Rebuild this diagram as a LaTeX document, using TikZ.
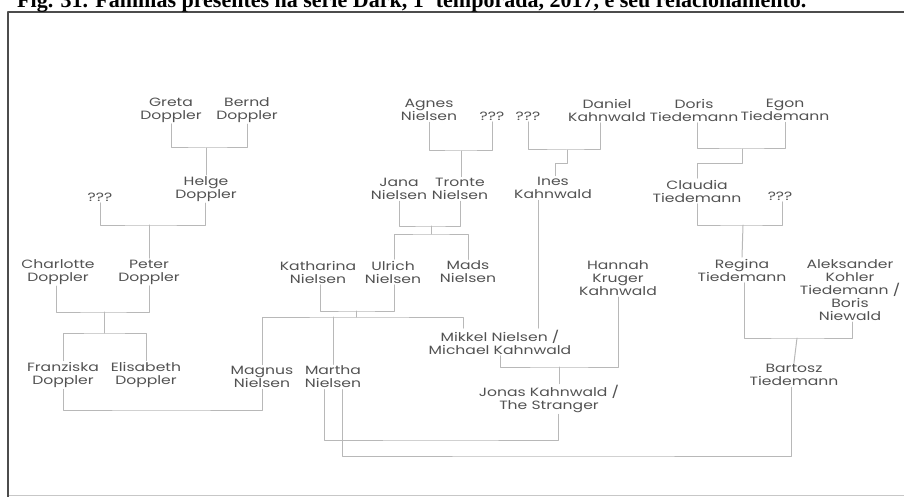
\documentclass[tikz,border=0pt]{standalone}
\usepackage{fontspec}
\setmainfont{Liberation Serif}
\newfontfamily\namefont[FakeStretch=1.3]{Poppins}
\usetikzlibrary{calc}

\tikzset{
  person/.style={align=center,inner sep=1.5pt,text=black!68,
    font=\namefont\fontsize{12}{13}\selectfont},
  link/.style={draw=black!28,line width=1pt},
}

\begin{document}
\begin{tikzpicture}[x=1pt,y=-1pt,line cap=round,line join=round]
  \useasboundingbox (0,0) rectangle (904,497);

  % Frame and caption
  \draw[black!22,line width=0.8pt] (9,495) -- (904,495);
  \draw[black!70,line width=2pt] (8,497) -- (8,12) -- (904,12);
  \node[anchor=base west,inner sep=0pt,font=\bfseries\fontsize{22}{22}\selectfont]
    (caption) at (17,8) {Fig. 31. Famílias presentes na série Dark, 1ª temporada, 2017, e seu relacionamento.};

  % Doppler family
  \node[person] (greta) at (171,110) {Greta\\Doppler};
  \node[person] (bernd) at (247,110) {Bernd\\Doppler};
  \node[person] (helge) at (206,189) {Helge\\Doppler};
  \node[person] (qa) at (100,197) {???};
  \node[person] (charlotte) at (58,272) {Charlotte\\Doppler};
  \node[person] (peter) at (149,272) {Peter\\Doppler};
  \node[person] (franziska) at (63,375) {Franziska\\Doppler};
  \node[person] (elisabeth) at (146,375) {Elisabeth\\Doppler};

  % Nielsen family
  \node[person] (agnes) at (429,110) {Agnes\\Nielsen};
  \node[person] (qb) at (492,116) {???};
  \node[person] (jana) at (399,189) {Jana\\Nielsen};
  \node[person] (tronte) at (460,189) {Tronte\\Nielsen};
  \node[person] (katharina) at (318,272) {Katharina\\Nielsen};
  \node[person] (ulrich) at (393,272) {Ulrich\\Nielsen};
  \node[person] (mads) at (468,272) {Mads\\Nielsen};
  \node[person] (magnus) at (262,377) {Magnus\\Nielsen};
  \node[person] (martha) at (333,377) {Martha\\Nielsen};
  \node[person] (mikkel) at (500,342) {Mikkel Nielsen /\\Michael Kahnwald};

  % Kahnwald family
  \node[person] (qc) at (528,116) {???};
  \node[person] (daniel) at (607,110) {Daniel\\Kahnwald};
  \node[person] (ines) at (553,188) {Ines\\Kahnwald};
  \node[person] (hannah) at (618,278) {Hannah\\Kruger\\Kahnwald};
  \node[person] (jonas) at (549,399) {Jonas Kahnwald /\\The Stranger};

  % Tiedemann family
  \node[person] (doris) at (694,110) {Doris\\Tiedemann};
  \node[person] (egon) at (785,110) {Egon\\Tiedemann};
  \node[person] (claudia) at (697,191) {Claudia\\Tiedemann};
  \node[person] (qd) at (780,196) {???};
  \node[person] (regina) at (742,270) {Regina\\Tiedemann};
  \node[person] (aleks) at (850,290) {Aleksander\\Kohler\\Tiedemann /\\Boris\\Niewald};
  \node[person] (bartosz) at (794,375) {Bartosz\\Tiedemann};

  % Junctions
  \coordinate (gb) at (206,148);
  \coordinate (qh) at (149,225);
  \coordinate (cp) at (104,312);
  \coordinate (cpk) at (104,333);
  \coordinate (aq) at (461,151);
  \coordinate (jt) at (431,226);
  \coordinate (jtk) at (431,234);
  \coordinate (qdan) at (567,150);
  \coordinate (de) at (742,149);
  \coordinate (cq) at (743,225);
  \coordinate (ra) at (797,338);
  \coordinate (ku) at (356,311);
  \coordinate (kuk) at (356,317);
  \coordinate (mh) at (559,367);
  \coordinate (fm) at (160,410);
  \coordinate (mj) at (440,440);
  \coordinate (mb) at (560,456);

  % Doppler links
  \draw[link] (greta.south) |- (gb) -| (bernd.south);
  \draw[link] (gb) -- (helge.north);
  \draw[link] (qa.south) |- (qh) -| ([xshift=-1pt]helge.south);
  \draw[link] (qh) -- (peter.north);
  \draw[link] ([xshift=-2pt]charlotte.south) |- (cp) -| (peter.south);
  \draw[link] (cp) -- (cpk);
  \draw[link] (franziska.north) |- (cpk) -| (elisabeth.north);

  % Nielsen links
  \draw[link] (agnes.south) |- (aq) -| (qb.south);
  \draw[link] (aq) -- (aq |- tronte.north);
  \draw[link] (jana.south) |- (jt) -| (tronte.south);
  \draw[link] (jt) -- (jtk);
  \draw[link] ([xshift=1pt]ulrich.north) |- (jtk) -| (mads.north);
  \draw[link] ([xshift=2pt]katharina.south) |- (ku) -| ([xshift=1pt]ulrich.south);
  \draw[link] (ku) -- (kuk);
  \draw[link] (magnus.north) |- (kuk) -| ([xshift=-37pt]mikkel.north);
  \draw[link] (martha.north |- kuk) -- (martha.north);

  % Kahnwald links
  \draw[link] (qc.south) |- (qdan) -| ([xshift=-7pt]daniel.south);
  \draw[link] (qdan) -- ++(0,14) -| ([xshift=2pt]ines.north);
  \draw[link] ([xshift=-15pt]ines.south) -- ([xshift=-15pt]ines.south |- mikkel.north);
  \draw[link] (mikkel.south) |- (mh) -| (hannah.south);
  \draw[link] (mh) -- (mh |- jonas.north);

  % Tiedemann links
  \draw[link] ([xshift=3pt]doris.south) |- (de) -| (egon.south);
  \draw[link] (de) -- ++(0,15) -| (claudia.north);
  \draw[link] (claudia.south) |- (cq) -| ([xshift=2pt]qd.south);
  \draw[link] (cq) -- (regina.north);
  \draw[link] ([xshift=2pt]regina.south) |- (ra) -| ([xshift=2pt]aleks.south);
  \draw[link] (ra) -- (bartosz.north);

  % Links across families
  \draw[link] (franziska.south) |- (fm) -| (magnus.south);
  \draw[link] ([xshift=-9pt]martha.south) |- (mj) -| ([xshift=9pt]jonas.south);
  \draw[link] ([xshift=9pt]martha.south) |- (mb) -| ([xshift=-3pt]bartosz.south);
\end{tikzpicture}
\end{document}
